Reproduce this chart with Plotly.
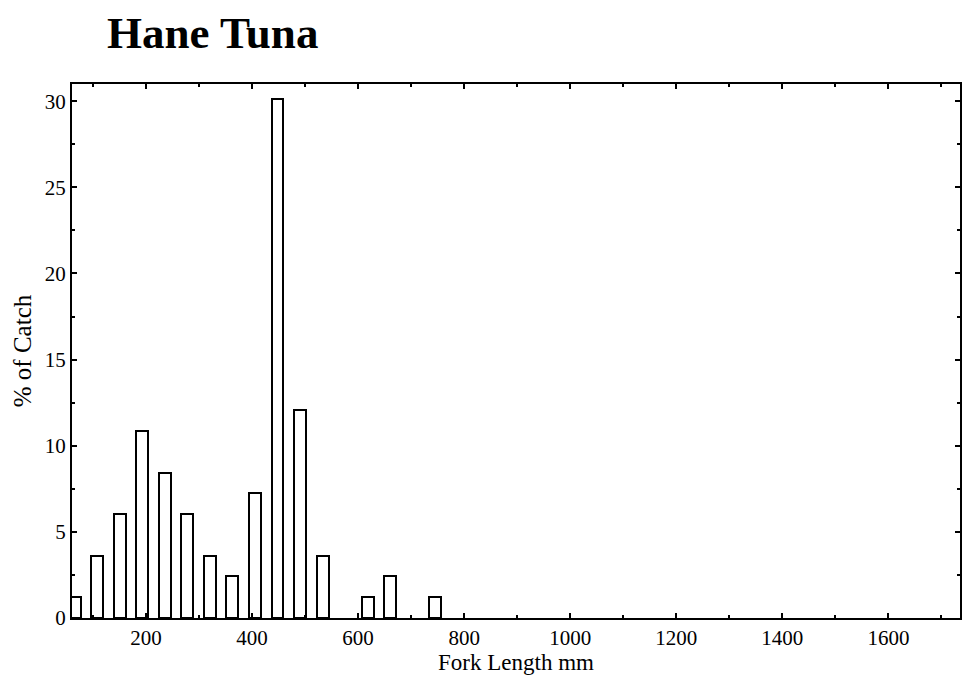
import plotly.graph_objects as go

# Fork-length classes (bin centres, mm) and share of catch (%)
fork_length_mm = [65.5, 108, 150.5, 193, 235.5, 278, 320.5, 363, 405.5,
                  448, 490.5, 533, 575.5, 618, 660.5, 703, 745.5]
pct_catch = [1.20, 3.61, 6.02, 10.84, 8.43, 6.02, 3.61, 2.41, 7.23,
             30.12, 12.05, 3.61, 0.0, 1.20, 2.41, 0.0, 1.20]
bin_width_mm = 22.5

x_ticks = [200, 400, 600, 800, 1000, 1200, 1400, 1600]
y_ticks = [0, 5, 10, 15, 20, 25, 30]

serif = "Liberation Serif, Times New Roman, serif"

# empty classes get no outline so nothing is drawn on the baseline
outline_widths = [2 if v > 0 else 0 for v in pct_catch]

fig = go.Figure(
    go.Bar(
        x=fork_length_mm,
        y=pct_catch,
        width=bin_width_mm,
        marker=dict(color="white",
                    line=dict(color="black", width=outline_widths)),
        hoverinfo="x+y",
    )
)

fig.update_layout(
    width=963,
    height=677,
    margin=dict(l=72, r=1, t=84, b=59),
    paper_bgcolor="white",
    plot_bgcolor="white",
    showlegend=False,
    font=dict(family=serif, color="black", size=20),
    title=dict(
        text="<b>Hane Tuna</b>",
        font=dict(family=serif, size=45, color="black"),
        x=107 / 963, xanchor="left", xref="container",
        y=0.953, yanchor="middle",
    ),
    bargap=0,
)

fig.update_xaxes(
    range=[60.5, 1735],
    tickvals=x_ticks,
    ticks="inside", ticklen=5, tickwidth=2, tickcolor="black",
    minor=dict(dtick=100, tick0=0, ticks="inside", ticklen=3,
               tickwidth=2, tickcolor="black"),
    showline=True, linecolor="black", linewidth=2, mirror="allticks",
    showgrid=False, zeroline=False,
    tickfont=dict(family=serif, size=21),
    title=dict(text="Fork Length mm", font=dict(family=serif, size=23),
               standoff=0),
)

fig.update_yaxes(
    range=[0, 31],
    tickvals=y_ticks,
    ticks="inside", ticklen=5, tickwidth=2, tickcolor="black",
    minor=dict(dtick=2.5, tick0=0, ticks="inside", ticklen=3,
               tickwidth=2, tickcolor="black"),
    showline=True, linecolor="black", linewidth=2, mirror="allticks",
    showgrid=False, zeroline=False,
    tickfont=dict(family=serif, size=21),
    title=dict(text="% of Catch", font=dict(family=serif, size=25),
               standoff=6),
)

fig.write_html("out.html")
